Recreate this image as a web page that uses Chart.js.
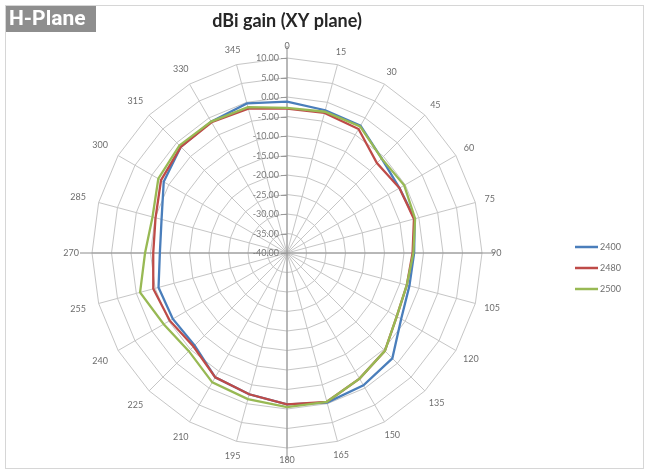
<!DOCTYPE html>
<html><head><meta charset="utf-8">
<script src="https://cdn.jsdelivr.net/npm/chart.js@4.4.1/dist/chart.umd.min.js"></script>
<style>html,body{margin:0;padding:0;background:#fff}#wrap{width:645px;height:471px;position:relative}</style>
</head><body><div id="wrap"><canvas id="c"></canvas></div>
<script>
const panelLabel = 'H-Plane';
const chartTitle = 'dBi gain (XY plane)';
const angleLabels = ['0','15','30','45','60','75','90','105','120','135','150','165','180','195','210','225','240','255','270','285','300','315','330','345'];
const seriesNames = ['2400','2480','2500'];
const gain2400 = [-1.2,-2.1,-2.3,-5.7,-6.7,-6.1,-7.4,-7.5,-6.2,-1.8,-0.8,-0.3,-1.2,-2.5,-3.2,-6.5,-6.2,-5.9,-7.4,-6.7,-3.5,-1.5,-1.1,-0.3];
const gain2480 = [-3.0,-2.8,-3.3,-7.4,-6.7,-6.3,-7.8,-8.2,-7.5,-4.5,-2.8,-0.5,-1.2,-2.5,-3.2,-6.1,-5.3,-4.5,-5.7,-5.1,-2.7,-1.5,-1.3,-1.7];
const gain2500 = [-2.8,-2.5,-2.5,-5.7,-5.3,-6.0,-7.6,-8.2,-7.5,-4.5,-2.8,-0.5,-0.5,-1.2,-1.7,-4.4,-3.5,-1.0,-3.6,-4.3,-1.9,-1.0,-1.1,-1.3];
const radialMin = -40, radialMax = 10, radialStep = 5;
const seriesColors = ['#4A7EBB','#BE4B48','#98B954'];

const FONT = 'Lato, "Liberation Sans", sans-serif';

const decor = {
  id: 'decor',
  beforeDraw(chart) {
    const ctx = chart.ctx;
    ctx.save();
    ctx.fillStyle = '#fff';
    ctx.fillRect(0, 0, chart.width, chart.height);
    ctx.strokeStyle = '#d6d6d6';
    ctx.lineWidth = 1;
    ctx.strokeRect(5.5, 5.5, chart.width - 7, chart.height - 8);
    ctx.restore();
  },
  beforeDatasetsDraw(chart) {
    const ctx = chart.ctx, s = chart.scales.r;
    const R = s.drawingArea;
    ctx.save();
    ctx.strokeStyle = '#8c8c8c';
    ctx.lineWidth = 1;
    [0, 6, 12, 18].forEach(i => {
      const p = s.getPointPosition(i, R + 12);
      ctx.beginPath();
      ctx.moveTo(s.xCenter, s.yCenter);
      ctx.lineTo(p.x, p.y);
      ctx.stroke();
    });
    ctx.font = '9px ' + FONT;
    ctx.fillStyle = '#7a7a7a';
    ctx.textAlign = 'right';
    ctx.textBaseline = 'middle';
    s.ticks.forEach(t => {
      const y = s.yCenter - s.getDistanceFromCenterForValue(t.value);
      ctx.strokeStyle = '#9a9a9a';
      ctx.beginPath();
      ctx.moveTo(s.xCenter - 6, Math.round(y) + 0.5);
      ctx.lineTo(s.xCenter, Math.round(y) + 0.5);
      ctx.stroke();
      ctx.fillText(t.value.toFixed(2), s.xCenter - 8, y + 0.5);
    });
    ctx.restore();
  },
  afterDraw(chart) {
    const ctx = chart.ctx, s = chart.scales.r;
    const R = s.drawingArea;
    ctx.save();
    ctx.font = '9px ' + FONT;
    ctx.fillStyle = '#6e6e6e';
    ctx.textAlign = 'center';
    ctx.textBaseline = 'middle';
    const n = chart.data.labels.length;
    chart.data.labels.forEach((lab, i) => {
      const ang = i * 2 * Math.PI / n;
      const w = ctx.measureText(lab).width;
      const sn = Math.sin(ang);
      const extra = sn < 0 ? 4 * Math.abs(sn) : 0;
      const d = R + 9 + 0.5 * w * Math.abs(sn) + 3 * Math.abs(Math.cos(ang)) + extra;
      const p = s.getPointPosition(i, d);
      ctx.fillText(lab, p.x, p.y);
    });
    ctx.font = 'bold 18px ' + FONT;
    ctx.fillStyle = '#262626';
    ctx.fillText(chartTitle, 287, 21);
    ctx.fillStyle = '#8e8e8e';
    ctx.fillRect(6, 6, 90, 26);
    ctx.font = 'bold 21px Roboto, ' + FONT;
    ctx.fillStyle = '#fff';
    ctx.textAlign = 'left';
    ctx.fillText(panelLabel, 9, 20);
    ctx.font = '9px ' + FONT;
    chart.data.datasets.forEach((ds, i) => {
      const y = 247 + i * 21;
      ctx.strokeStyle = ds.borderColor;
      ctx.lineWidth = 2.5;
      ctx.beginPath();
      ctx.moveTo(575, y);
      ctx.lineTo(598, y);
      ctx.stroke();
      ctx.fillStyle = '#6e6e6e';
      ctx.fillText(ds.label, 600, y + 0.5);
    });
    ctx.restore();
  }
};

const series = [gain2400, gain2480, gain2500];
new Chart(document.getElementById('c'), {
  type: 'radar',
  data: {
    labels: angleLabels,
    datasets: series.map((vals, i) => ({
      label: seriesNames[i],
      data: vals,
      borderColor: seriesColors[i],
      backgroundColor: seriesColors[i],
      borderWidth: 2.3,
      pointRadius: 0,
      fill: false,
      tension: 0,
      order: 2 - i
    }))
  },
  options: {
    responsive: true,
    maintainAspectRatio: false,
    animation: false,
    layout: { padding: { left: 92, right: 163, top: 58, bottom: 23 } },
    plugins: { legend: { display: false }, title: { display: false }, tooltip: { enabled: false } },
    scales: {
      r: {
        min: radialMin, max: radialMax,
        ticks: { stepSize: radialStep, display: false },
        pointLabels: { display: false },
        grid: { color: '#c6c6c6', lineWidth: 1 },
        angleLines: { color: '#c6c6c6', lineWidth: 1 }
      }
    }
  },
  plugins: [decor]
});
</script>
</body></html>
